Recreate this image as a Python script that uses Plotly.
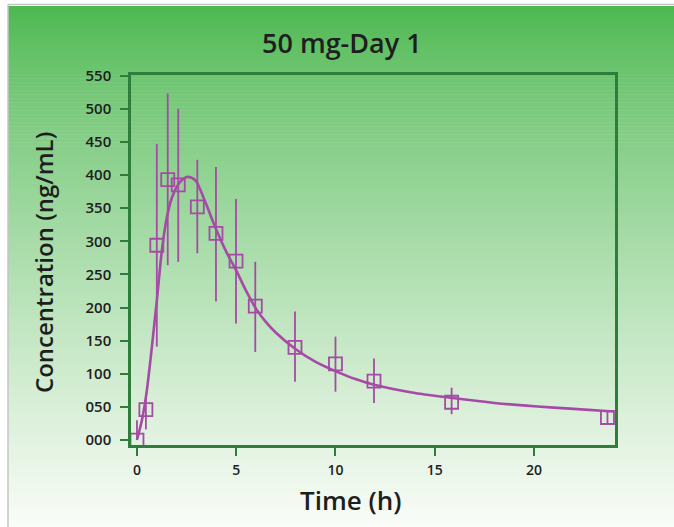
import plotly.graph_objects as go

# ---- data ----
time_h = [0, 0.45, 1.0, 1.55, 2.08, 3.04, 3.98, 4.99, 5.96, 7.96, 10.0, 11.94, 15.85, 23.7]
conc_mean = [0, 46, 294, 393, 385, 352, 312, 270, 202, 140, 115, 89, 57, 34]
conc_upper = [30, 71, 447, 523, 500, 423, 412, 364, 269, 194, 156, 123, 79, 43]
conc_lower = [0, 16, 141, 264, 269, 282, 209, 176, 133, 88, 73, 56, 39, 23]

fit_t = [0, 0.25, 0.5, 0.75, 1.0, 1.25, 1.5, 1.75, 2.0, 2.25, 2.5, 2.75, 3.0, 3.5, 4.0,
         4.5, 5.0, 5.5, 6.0, 6.5, 7.0, 8.0, 9.0, 10, 11, 12, 14, 16, 18, 20, 22, 24]
fit_c = [0, 30, 75, 140, 210, 285, 335, 365, 382, 392, 397, 396, 390, 355, 317,
         284, 256, 225, 198, 178, 162, 137, 118, 104, 92, 83, 71, 63, 56, 51, 47, 43]

x_ticks = [0, 5, 10, 15, 20]
y_ticks = [0, 50, 100, 150, 200, 250, 300, 350, 400, 450, 500, 550]
y_tick_text = ["000", "050", "100", "150", "200", "250", "300", "350", "400", "450", "500", "550"]

title_text = "50 mg-Day 1"
x_title = "Time (h)"
y_title = "Concentration (ng/mL)"

# ---- styling ----
W, H = 674, 527
ML, MR, MT, MB = 131, 59, 75, 82
PW, PH = W - ML - MR, H - MT - MB
MAG = "#a54aa5"
FRAME = "#2f7d3b"
FONT = "Open Sans"
TXT = "#1e1e1e"

def px_to_paper_x(px):
    return (px - ML) / PW

def px_to_paper_y(py):
    return (H - MB - py) / PH

err_plus = [u - m for u, m in zip(conc_upper, conc_mean)]
err_minus = [m - l for m, l in zip(conc_mean, conc_lower)]

fig = go.Figure()
fig.add_trace(go.Scatter(
    x=fit_t, y=fit_c, mode="lines", line=dict(color=MAG, width=2.6, shape="spline", smoothing=0.6),
    hoverinfo="skip", showlegend=False))
fig.add_trace(go.Scatter(
    x=time_h, y=conc_mean, mode="markers",
    marker=dict(symbol="square-open", size=13, color=MAG, line=dict(width=1.8, color=MAG)),
    error_y=dict(type="data", symmetric=False, array=err_plus, arrayminus=err_minus,
                 color=MAG, thickness=1.8, width=0),
    showlegend=False))

# gradient background built from stripes
shapes = []
top_px, bot_px, left_px = 6, H, 8
c0 = (74, 183, 78)
c1 = (250, 252, 248)
n = 130
for i in range(n):
    y0 = top_px + (bot_px - top_px) * i / n
    y1 = top_px + (bot_px - top_px) * (i + 1) / n + 0.6
    t = ((i + 0.5) / n) ** 0.8
    col = tuple(round(a + (b - a) * t) for a, b in zip(c0, c1))
    shapes.append(dict(type="rect", xref="paper", yref="paper", layer="below",
                       x0=px_to_paper_x(left_px), x1=px_to_paper_x(W + 2),
                       y0=px_to_paper_y(y1), y1=px_to_paper_y(y0),
                       line=dict(width=0), fillcolor="rgb(%d,%d,%d)" % col))
# thin grey border of panel
shapes.append(dict(type="line", xref="paper", yref="paper", layer="below",
                   x0=px_to_paper_x(left_px), x1=px_to_paper_x(left_px),
                   y0=px_to_paper_y(4.5), y1=px_to_paper_y(H + 2),
                   line=dict(color="#c4c4c4", width=1.5)))
shapes.append(dict(type="line", xref="paper", yref="paper", layer="below",
                   x0=px_to_paper_x(left_px), x1=px_to_paper_x(W + 2),
                   y0=px_to_paper_y(4.5), y1=px_to_paper_y(4.5),
                   line=dict(color="#c4c4c4", width=1.5)))

annotations = [
    dict(text=title_text, xref="paper", yref="paper", x=px_to_paper_x(342), y=px_to_paper_y(42),
         xanchor="center", yanchor="middle", showarrow=False,
         font=dict(family=FONT, size=27, color=TXT, weight=600)),
    dict(text=x_title, xref="paper", yref="paper", x=px_to_paper_x(350), y=px_to_paper_y(500),
         xanchor="center", yanchor="middle", showarrow=False,
         font=dict(family=FONT, size=26, color=TXT, weight=600)),
    dict(text=y_title, xref="paper", yref="paper", x=px_to_paper_x(43), y=px_to_paper_y(263),
         xanchor="center", yanchor="middle", showarrow=False, textangle=-90,
         font=dict(family=FONT, size=24, color=TXT, weight=600)),
]

fig.update_layout(
    width=W, height=H,
    margin=dict(l=ML, r=MR, t=MT, b=MB),
    paper_bgcolor="white", plot_bgcolor="rgba(0,0,0,0)",
    shapes=shapes, annotations=annotations,
    xaxis=dict(range=[-0.3, 24.08], tickvals=x_ticks, ticks="outside", ticklen=8, tickwidth=2,
               tickcolor=FRAME, showline=True, linecolor=FRAME, linewidth=2.5, mirror=True,
               showgrid=False, zeroline=False, ticklabelstandoff=2,
               tickfont=dict(family=FONT, size=14, color=TXT, weight=600)),
    yaxis=dict(range=[-7.5, 551], tickvals=y_ticks, ticktext=y_tick_text, ticks="outside",
               ticklen=8, tickwidth=2, tickcolor=FRAME, showline=True, linecolor=FRAME,
               linewidth=2.5, mirror=True, showgrid=False, zeroline=False,
               ticklabelstandoff=6,
               tickfont=dict(family=FONT, size=15, color=TXT, weight=600)),
)

fig.write_html("out.html")
